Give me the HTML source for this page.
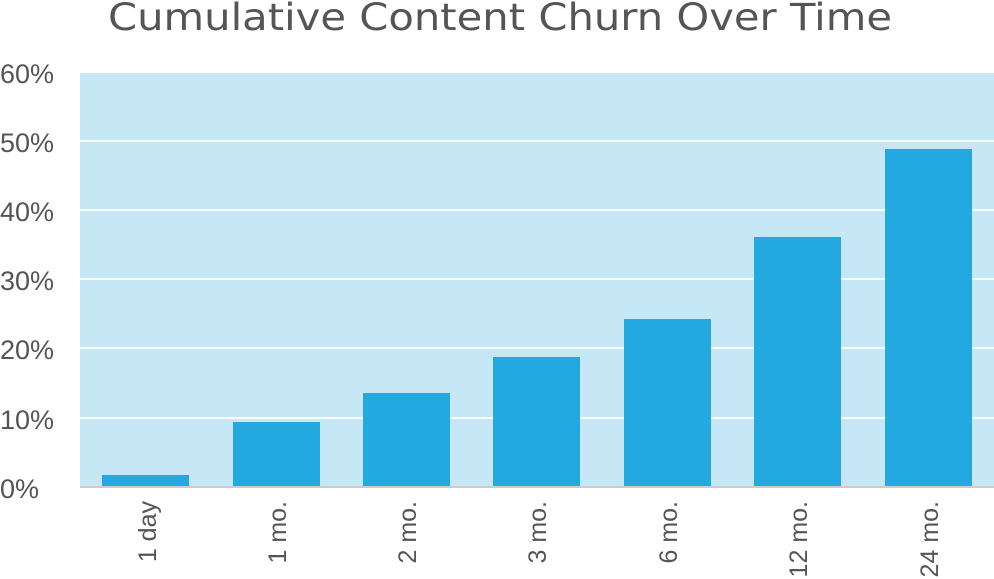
<!DOCTYPE html>
<html><head><style>
html,body{margin:0;padding:0;background:#fff;}
svg{display:block;}
text{font-family:"Liberation Sans",sans-serif;fill:#555;}
</style></head><body>
<svg width="994" height="579" xmlns="http://www.w3.org/2000/svg">
<text x="500" y="30" text-anchor="middle" textLength="784" lengthAdjust="spacingAndGlyphs" style="font-family:'DejaVu Sans',sans-serif;fill:#555;font-size:37px">Cumulative Content Churn Over Time</text>
<rect x="80" y="73" width="914" height="414" fill="#c6e7f6"/>
<g stroke="#fff" stroke-width="2">
<line x1="80" x2="994" y1="141" y2="141"/>
<line x1="80" x2="994" y1="210" y2="210"/>
<line x1="80" x2="994" y1="279" y2="279"/>
<line x1="80" x2="994" y1="348" y2="348"/>
<line x1="80" x2="994" y1="418" y2="418"/>
</g>
<g fill="#23a9e0">
<rect x="102" y="475" width="87" height="12"/>
<rect x="233" y="422" width="87" height="65"/>
<rect x="363" y="393" width="87" height="94"/>
<rect x="493" y="357" width="87" height="130"/>
<rect x="624" y="319" width="87" height="168"/>
<rect x="754" y="237" width="87" height="250"/>
<rect x="885" y="149" width="87" height="338"/>
</g>
<line x1="80" x2="994" y1="487" y2="487" stroke="#ccc" stroke-width="2"/>
<g font-size="27" text-anchor="start">
<text x="0" y="83">60%</text>
<text x="0" y="152">50%</text>
<text x="0" y="221">40%</text>
<text x="0" y="290">30%</text>
<text x="0" y="359">20%</text>
<text x="0" y="429">10%</text>
<text x="0" y="498">0%</text>
</g>
<g font-size="25" text-anchor="end">
<text transform="translate(156,501) rotate(-90)">1 day</text>
<text transform="translate(286,501) rotate(-90)">1 mo.</text>
<text transform="translate(416,501) rotate(-90)">2 mo.</text>
<text transform="translate(546,501) rotate(-90)">3 mo.</text>
<text transform="translate(677,501) rotate(-90)">6 mo.</text>
<text transform="translate(807,501) rotate(-90)">12 mo.</text>
<text transform="translate(938,501) rotate(-90)">24 mo.</text>
</g>
</svg>
</body></html>
